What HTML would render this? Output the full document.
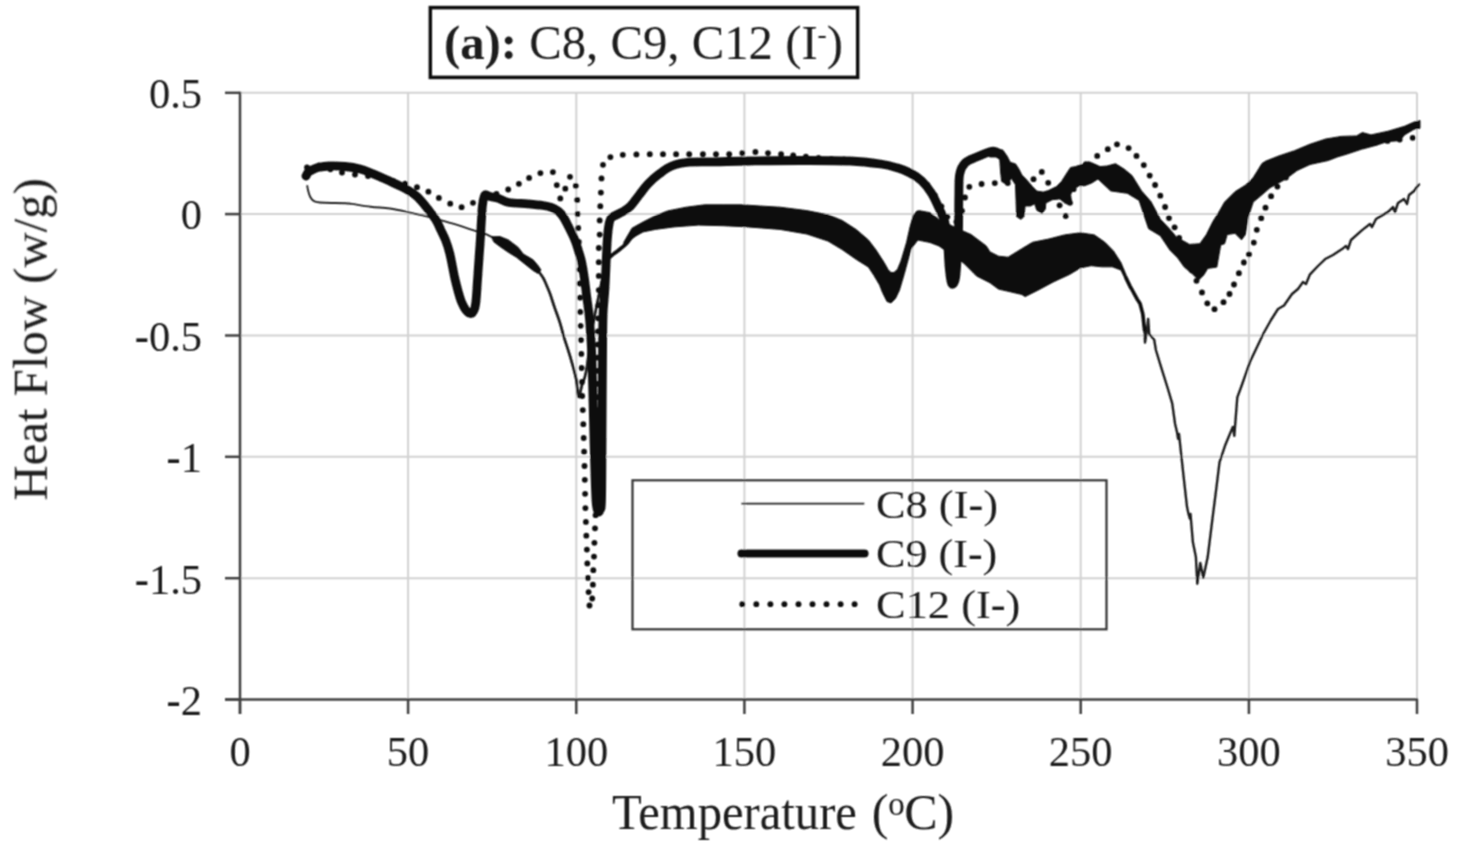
<!DOCTYPE html>
<html><head><meta charset="utf-8"><style>
html,body{margin:0;padding:0;background:#fff;}
svg{display:block;}
text{font-family:"Liberation Serif",serif;fill:#1a1a1a;}
</style></head><body>
<svg width="1462" height="846" viewBox="0 0 1462 846">
<defs><filter id="bl" x="0" y="0" width="1462" height="846" filterUnits="userSpaceOnUse"><feConvolveMatrix order="3" kernelMatrix="1 2 1 2 4 2 1 2 1" divisor="16" edgeMode="duplicate" preserveAlpha="false"/></filter></defs>
<rect width="1462" height="846" fill="#fff"/>
<g filter="url(#bl)">
<g stroke="#d2d2d2" stroke-width="2"><line x1="408.1" y1="92.8" x2="408.1" y2="699.5"/><line x1="576.3" y1="92.8" x2="576.3" y2="699.5"/><line x1="744.4" y1="92.8" x2="744.4" y2="699.5"/><line x1="912.6" y1="92.8" x2="912.6" y2="699.5"/><line x1="1080.7" y1="92.8" x2="1080.7" y2="699.5"/><line x1="1248.9" y1="92.8" x2="1248.9" y2="699.5"/><line x1="1417.0" y1="92.8" x2="1417.0" y2="699.5"/><line x1="240.0" y1="92.8" x2="1417.0" y2="92.8"/><line x1="240.0" y1="214.1" x2="1417.0" y2="214.1"/><line x1="240.0" y1="335.5" x2="1417.0" y2="335.5"/><line x1="240.0" y1="456.8" x2="1417.0" y2="456.8"/><line x1="240.0" y1="578.2" x2="1417.0" y2="578.2"/></g>
<g stroke="#404040" stroke-width="2.5" stroke-linecap="butt">
<line x1="240.0" y1="91.8" x2="240.0" y2="714"/>
<line x1="225" y1="699.5" x2="1418.0" y2="699.5"/>
<line x1="225" y1="92.8" x2="240.0" y2="92.8"/><line x1="225" y1="214.1" x2="240.0" y2="214.1"/><line x1="225" y1="335.5" x2="240.0" y2="335.5"/><line x1="225" y1="456.8" x2="240.0" y2="456.8"/><line x1="225" y1="578.2" x2="240.0" y2="578.2"/><line x1="225" y1="699.5" x2="240.0" y2="699.5"/><line x1="240.0" y1="699.5" x2="240.0" y2="714"/><line x1="408.1" y1="699.5" x2="408.1" y2="714"/><line x1="576.3" y1="699.5" x2="576.3" y2="714"/><line x1="744.4" y1="699.5" x2="744.4" y2="714"/><line x1="912.6" y1="699.5" x2="912.6" y2="714"/><line x1="1080.7" y1="699.5" x2="1080.7" y2="714"/><line x1="1248.9" y1="699.5" x2="1248.9" y2="714"/><line x1="1417.0" y1="699.5" x2="1417.0" y2="714"/></g>
<g font-size="42.5"><text x="202" y="108.1" text-anchor="end">0.5</text><text x="202" y="229.4" text-anchor="end">0</text><text x="202" y="350.8" text-anchor="end"><tspan font-weight="bold" dy="-1">-</tspan><tspan dy="1">0.5</tspan></text><text x="202" y="472.1" text-anchor="end"><tspan font-weight="bold" dy="-1">-</tspan><tspan dy="1">1</tspan></text><text x="202" y="593.5" text-anchor="end"><tspan font-weight="bold" dy="-1">-</tspan><tspan dy="1">1.5</tspan></text><text x="202" y="714.8" text-anchor="end"><tspan font-weight="bold" dy="-1">-</tspan><tspan dy="1">2</tspan></text><text x="240.0" y="765.5" text-anchor="middle">0</text><text x="408.1" y="765.5" text-anchor="middle">50</text><text x="576.3" y="765.5" text-anchor="middle">100</text><text x="744.4" y="765.5" text-anchor="middle">150</text><text x="912.6" y="765.5" text-anchor="middle">200</text><text x="1080.7" y="765.5" text-anchor="middle">250</text><text x="1248.9" y="765.5" text-anchor="middle">300</text><text x="1417.0" y="765.5" text-anchor="middle">350</text></g>
<g font-size="50"><text x="612" y="829" textLength="244.9" lengthAdjust="spacingAndGlyphs">Temperature</text>
<text x="871.8" y="829">(</text><text x="888.3" y="814.7" font-size="33">o</text><text x="904.2" y="829">C)</text></g>
<text transform="translate(46.8,500.6) rotate(-90)" font-size="49" textLength="322.5" lengthAdjust="spacingAndGlyphs">Heat Flow (w/g)</text>
<rect x="430.3" y="7.6" width="427.4" height="69.8" fill="none" stroke="#111" stroke-width="3.5"/>
<text x="444" y="58.8" font-size="48" textLength="399" lengthAdjust="spacingAndGlyphs"><tspan font-weight="bold">(a):</tspan> C8, C9, C12 (I<tspan font-size="27" dy="-16">-</tspan><tspan dy="16">)</tspan></text>
<g fill="none" stroke-linejoin="round" stroke-linecap="round">
<path d="M307.3,186.0 C307.4,186.7 307.6,188.3 308.0,190.0 C308.4,191.7 309.1,194.3 309.8,196.0 C310.6,197.7 311.5,199.0 312.5,200.0 C313.5,201.0 313.9,201.3 316.0,201.8 C318.1,202.3 320.2,202.6 325.0,202.8 C329.8,203.0 340.6,203.0 345.0,203.2 C349.4,203.4 347.4,203.3 351.7,203.9 C356.0,204.5 364.2,205.9 370.6,206.7 C377.0,207.5 383.8,207.6 390.0,208.5 C396.2,209.4 401.8,210.7 407.7,212.0 C413.6,213.3 419.6,214.6 425.5,216.1 C431.4,217.6 437.3,219.2 443.2,220.9 C449.1,222.6 455.7,224.5 461.0,226.2 C466.3,227.9 471.4,229.7 475.1,230.9 C478.8,232.1 480.4,232.1 483.3,233.2 C486.2,234.3 489.6,236.0 492.4,237.4 C495.2,238.8 497.4,240.1 500.0,241.5 C502.6,242.9 505.2,244.2 508.0,246.0 C510.8,247.8 514.3,250.2 517.0,252.4 C519.7,254.6 521.3,256.9 524.0,259.0 C526.7,261.1 530.7,263.1 533.0,265.0 C535.3,266.9 536.4,268.5 538.0,270.5 C539.6,272.5 541.5,275.3 542.6,277.0 C543.7,278.7 543.7,278.8 544.5,280.5 C545.3,282.2 546.5,285.1 547.5,287.5 C548.5,289.9 549.3,291.5 550.5,295.0 C551.7,298.5 553.3,303.8 554.9,308.4 C556.5,313.0 558.4,317.9 559.9,322.6 C561.4,327.3 562.4,332.0 563.8,336.7 C565.2,341.4 566.9,346.2 568.4,350.9 C569.9,355.6 571.3,360.4 572.6,365.1 C573.9,369.8 575.2,374.0 576.2,379.3 C577.2,384.6 577.6,396.1 578.6,397.0 C579.6,397.9 580.7,389.3 582.0,385.0 C583.3,380.7 584.5,380.5 586.2,371.3 C587.9,362.1 589.7,343.6 592.0,330.0 C594.3,316.4 597.8,300.5 600.0,290.0 C602.2,279.5 603.6,272.2 605.0,267.0 C606.4,261.8 606.0,261.3 608.3,258.5 C610.6,255.7 615.9,252.4 618.9,250.0 C621.9,247.6 623.9,246.1 626.0,244.0 C628.1,241.9 629.4,239.4 631.7,237.2 C634.0,235.0 638.6,232.0 640.0,231.0" stroke="#222" stroke-width="1.9"/>
<path d="M538.0,270.5 C538.8,271.6 541.5,275.3 542.6,277.0 C543.7,278.7 543.7,278.8 544.5,280.5 C545.3,282.2 546.5,285.1 547.5,287.5 C548.5,289.9 549.3,291.5 550.5,295.0 C551.7,298.5 553.3,303.8 554.9,308.4 C556.5,313.0 558.4,317.9 559.9,322.6 C561.4,327.3 562.4,332.0 563.8,336.7 C565.2,341.4 566.9,346.2 568.4,350.9 C569.9,355.6 571.3,360.4 572.6,365.1 C573.9,369.8 575.2,374.0 576.2,379.3 C577.2,384.6 577.6,396.1 578.6,397.0 C579.6,397.9 580.7,389.3 582.0,385.0 C583.3,380.7 584.5,380.5 586.2,371.3 C587.9,362.1 589.7,343.6 592.0,330.0 C594.3,316.4 597.8,300.5 600.0,290.0 C602.2,279.5 603.6,272.2 605.0,267.0 C606.4,261.8 606.0,261.3 608.3,258.5 C610.6,255.7 615.9,252.4 618.9,250.0 C621.9,247.6 623.9,246.1 626.0,244.0 C628.1,241.9 629.4,239.4 631.7,237.2 C634.0,235.0 638.6,232.0 640.0,231.0" stroke="#1a1a1a" stroke-width="2.7"/>
<path d="M605.0,267.0 C605.5,265.6 606.0,261.3 608.3,258.5 C610.6,255.7 615.9,252.4 618.9,250.0 C621.9,247.6 623.9,246.1 626.0,244.0 C628.1,241.9 629.4,239.4 631.7,237.2 C634.0,235.0 638.6,232.0 640.0,231.0" stroke="#111" stroke-width="3.8"/>
<polyline points="1126.0,278.0 1130.0,286.0 1137.0,298.9 1140.0,303.5 1142.8,314.0 1144.5,330.0 1145.0,342.6 1147.0,330.0 1148.2,319.0 1149.2,334.0 1154.2,339.7 1155.9,350.0 1160.4,364.8 1167.8,388.5 1172.2,403.3 1175.1,424.0 1177.0,432.0 1178.1,438.8 1179.0,434.0 1181.1,453.6 1184.0,480.2 1187.0,506.8 1188.5,514.0 1189.9,518.6 1190.5,514.0 1192.9,542.3 1195.9,557.1 1197.3,583.7 1200.3,563.0 1203.3,577.8 1207.7,557.1 1212.1,521.6 1216.6,486.1 1219.5,462.4 1225.4,444.7 1232.8,426.9 1234.3,435.8 1237.3,397.3 1241.7,385.5 1250.0,361.8 1263.7,333.0 1271.0,320.0 1278.0,309.0 1284.0,305.5 1292.0,294.0 1298.0,289.0 1303.0,282.0 1306.0,284.0 1310.0,274.3 1318.0,266.0 1325.7,258.7 1333.0,255.0 1341.3,249.6 1346.0,246.0 1348.0,249.0 1351.0,240.0 1362.1,230.1 1370.0,224.0 1372.0,227.0 1376.0,219.0 1388.1,211.9 1393.0,207.0 1395.0,212.0 1398.0,203.0 1404.0,199.0 1407.0,204.0 1409.0,195.0 1414.1,191.0 1416.5,187.5 1419.0,184.5" stroke="#1a1a1a" stroke-width="2.4"/>
<polyline points="1126.0,278.0 1130.0,286.0 1137.0,298.9 1140.0,303.5 1142.8,314.0 1144.5,330.0" stroke="#111" stroke-width="3.6"/>
<polygon points="492.0,236.8 500.0,236.6 508.3,239.9 518.2,247.4 523.2,254.0 533.1,259.8 538.0,265.6 541.0,270.0 538.0,273.5 533.1,270.5 524.8,263.9 516.5,257.3 508.3,252.3 500.0,246.5 494.0,242.0" fill="#111" stroke="#111" stroke-width="1"/>
<polygon points="624.0,242.0 632.0,228.2 643.1,222.0 655.4,215.8 667.7,210.9 686.2,207.2 704.6,204.8 723.1,204.8 741.5,204.8 760.0,206.0 780.0,207.2 806.7,210.6 828.0,214.8 842.2,220.5 856.4,229.7 868.4,240.0 876.0,250.0 884.1,262.5 888.0,269.5 891.0,272.6 894.0,272.6 897.6,269.2 901.0,261.0 906.6,242.3 910.0,227.0 913.3,215.3 917.0,211.0 920.0,210.8 930.0,212.7 938.9,219.4 957.8,228.8 971.0,234.5 986.2,245.9 990.0,251.9 998.5,256.2 1008.1,257.2 1021.9,248.7 1032.6,242.3 1048.5,239.1 1064.5,234.9 1080.4,232.8 1094.3,234.9 1104.9,242.3 1113.4,250.9 1120.9,262.6 1126.2,275.3 1130.0,283.8 1130.0,289.1 1120.9,270.0 1112.3,266.8 1101.7,266.8 1091.1,265.7 1080.4,267.9 1069.8,274.3 1053.8,281.7 1037.9,290.2 1025.1,296.6 1021.9,294.5 1008.1,291.3 998.5,289.1 990.0,282.8 976.7,276.1 963.5,262.9 938.9,245.9 930.0,242.5 917.8,240.0 911.0,249.0 904.3,273.7 899.5,290.0 895.5,298.5 891.0,302.9 887.0,301.5 882.5,292.5 879.6,284.9 874.0,275.5 868.4,267.0 856.4,259.5 842.2,249.6 828.0,241.1 806.7,234.0 780.0,229.4 747.7,226.9 723.1,225.7 698.5,225.1 673.9,226.9 655.4,229.4 643.1,231.9 629.5,239.2 624.0,244.0" fill="#111" stroke="#111" stroke-width="1"/>
<g fill="#111" stroke="none"><circle cx="307.0" cy="167.5" r="2.9"/><circle cx="319.0" cy="165.5" r="2.9"/><circle cx="330.4" cy="169.3" r="2.9"/><circle cx="342.0" cy="172.5" r="2.9"/><circle cx="355.0" cy="174.5" r="2.9"/><circle cx="368.0" cy="176.0" r="2.9"/><circle cx="381.0" cy="178.5" r="2.9"/><circle cx="393.1" cy="181.0" r="2.9"/><circle cx="405.2" cy="183.6" r="2.9"/><circle cx="417.0" cy="187.2" r="2.9"/><circle cx="428.4" cy="191.7" r="2.9"/><circle cx="438.9" cy="197.9" r="2.9"/><circle cx="450.2" cy="203.7" r="2.9"/><circle cx="461.6" cy="207.2" r="2.9"/><circle cx="473.0" cy="202.8" r="2.9"/><circle cx="484.6" cy="198.1" r="2.9"/><circle cx="496.5" cy="194.0" r="2.9"/><circle cx="508.2" cy="189.5" r="2.9"/><circle cx="518.9" cy="183.8" r="2.9"/><circle cx="529.1" cy="177.9" r="2.9"/><circle cx="540.4" cy="173.1" r="2.9"/><circle cx="552.9" cy="172.1" r="2.9"/><circle cx="556.8" cy="185.1" r="2.9"/><circle cx="560.3" cy="198.4" r="2.9"/><circle cx="565.3" cy="188.7" r="2.9"/><circle cx="570.0" cy="176.8" r="2.9"/><circle cx="575.8" cy="185.8" r="2.9"/><circle cx="577.2" cy="200.0" r="2.9"/><circle cx="577.6" cy="214.0" r="2.9"/><circle cx="578.2" cy="228.0" r="2.9"/><circle cx="578.8" cy="241.9" r="2.9"/><circle cx="579.3" cy="255.7" r="2.9"/><circle cx="579.5" cy="269.6" r="2.9"/><circle cx="579.7" cy="283.5" r="2.9"/><circle cx="580.0" cy="297.7" r="2.9"/><circle cx="580.2" cy="311.9" r="2.9"/><circle cx="580.6" cy="325.8" r="2.9"/><circle cx="581.0" cy="340.0" r="2.9"/><circle cx="581.3" cy="353.9" r="2.9"/><circle cx="581.6" cy="368.0" r="2.9"/><circle cx="582.0" cy="382.0" r="2.9"/><circle cx="582.2" cy="396.0" r="2.9"/><circle cx="582.8" cy="410.1" r="2.9"/><circle cx="583.3" cy="424.2" r="2.9"/><circle cx="583.7" cy="438.0" r="2.9"/><circle cx="584.1" cy="451.7" r="2.9"/><circle cx="584.5" cy="466.0" r="2.9"/><circle cx="584.8" cy="479.8" r="2.9"/><circle cx="585.1" cy="493.8" r="2.9"/><circle cx="585.4" cy="508.1" r="2.9"/><circle cx="585.9" cy="521.9" r="2.9"/><circle cx="586.3" cy="535.7" r="2.9"/><circle cx="586.9" cy="549.6" r="2.9"/><circle cx="587.3" cy="563.4" r="2.9"/><circle cx="588.0" cy="577.9" r="2.9"/><circle cx="588.6" cy="592.1" r="2.9"/><circle cx="589.5" cy="605.5" r="2.9"/><circle cx="592.2" cy="598.5" r="2.9"/><circle cx="592.9" cy="584.7" r="2.9"/><circle cx="593.3" cy="570.2" r="2.9"/><circle cx="594.0" cy="556.6" r="2.9"/><circle cx="594.4" cy="542.8" r="2.9"/><circle cx="595.0" cy="528.3" r="2.9"/><circle cx="595.6" cy="515.2" r="2.9"/><circle cx="596.0" cy="502.1" r="2.9"/><circle cx="596.2" cy="488.9" r="2.9"/><circle cx="596.4" cy="475.8" r="2.9"/><circle cx="596.5" cy="462.7" r="2.9"/><circle cx="596.7" cy="449.6" r="2.9"/><circle cx="596.8" cy="436.4" r="2.9"/><circle cx="597.0" cy="423.3" r="2.9"/><circle cx="597.1" cy="410.2" r="2.9"/><circle cx="597.3" cy="397.1" r="2.9"/><circle cx="597.4" cy="383.9" r="2.9"/><circle cx="597.5" cy="370.8" r="2.9"/><circle cx="597.7" cy="357.7" r="2.9"/><circle cx="597.8" cy="344.6" r="2.9"/><circle cx="598.0" cy="331.4" r="2.9"/><circle cx="598.2" cy="318.3" r="2.9"/><circle cx="598.4" cy="305.2" r="2.9"/><circle cx="598.8" cy="290.1" r="2.9"/><circle cx="598.8" cy="275.9" r="2.9"/><circle cx="598.8" cy="262.2" r="2.9"/><circle cx="598.8" cy="248.0" r="2.9"/><circle cx="599.7" cy="234.6" r="2.9"/><circle cx="599.7" cy="220.4" r="2.9"/><circle cx="600.3" cy="206.2" r="2.9"/><circle cx="600.9" cy="192.6" r="2.9"/><circle cx="601.5" cy="178.4" r="2.9"/><circle cx="603.0" cy="164.8" r="2.9"/><circle cx="610.4" cy="157.1" r="2.9"/><circle cx="622.8" cy="154.8" r="2.9"/><circle cx="636.4" cy="154.4" r="2.9"/><circle cx="649.8" cy="154.2" r="2.9"/><circle cx="663.0" cy="154.2" r="2.9"/><circle cx="676.1" cy="154.2" r="2.9"/><circle cx="689.2" cy="154.2" r="2.9"/><circle cx="702.9" cy="154.2" r="2.9"/><circle cx="716.0" cy="154.2" r="2.9"/><circle cx="729.2" cy="154.2" r="2.9"/><circle cx="742.3" cy="153.1" r="2.9"/><circle cx="755.4" cy="152.0" r="2.9"/><circle cx="768.0" cy="153.1" r="2.9"/><circle cx="781.1" cy="154.2" r="2.9"/><circle cx="793.2" cy="155.3" r="2.9"/><circle cx="805.9" cy="156.6" r="2.9"/><circle cx="818.6" cy="157.9" r="2.9"/><circle cx="831.3" cy="158.8" r="2.9"/><circle cx="844.0" cy="159.5" r="2.9"/><circle cx="856.7" cy="160.6" r="2.9"/><circle cx="869.4" cy="162.0" r="2.9"/><circle cx="882.0" cy="163.8" r="2.9"/><circle cx="894.4" cy="166.7" r="2.9"/><circle cx="906.4" cy="170.9" r="2.9"/><circle cx="917.7" cy="176.8" r="2.9"/><circle cx="927.4" cy="185.0" r="2.9"/><circle cx="934.9" cy="195.3" r="2.9"/><circle cx="941.4" cy="206.3" r="2.9"/><circle cx="947.3" cy="216.8" r="2.9"/><circle cx="956.4" cy="221.8" r="2.9"/><circle cx="962.0" cy="211.0" r="2.9"/><circle cx="965.0" cy="197.5" r="2.9"/><circle cx="969.3" cy="186.8" r="2.9"/><circle cx="981.6" cy="184.0" r="2.9"/><circle cx="994.8" cy="183.1" r="2.9"/><circle cx="1007.8" cy="183.0" r="2.9"/><circle cx="1020.8" cy="181.9" r="2.9"/><circle cx="1033.5" cy="179.2" r="2.9"/><circle cx="1041.8" cy="171.9" r="2.9"/><circle cx="1048.2" cy="182.8" r="2.9"/><circle cx="1054.0" cy="194.0" r="2.9"/><circle cx="1059.6" cy="205.3" r="2.9"/><circle cx="1065.7" cy="216.0" r="2.9"/><circle cx="1070.0" cy="202.8" r="2.9"/><circle cx="1073.6" cy="189.2" r="2.9"/><circle cx="1078.4" cy="176.0" r="2.9"/><circle cx="1085.9" cy="164.2" r="2.9"/><circle cx="1097.2" cy="155.9" r="2.9"/><circle cx="1107.8" cy="149.2" r="2.9"/><circle cx="1117.0" cy="144.3" r="2.9"/><circle cx="1128.6" cy="148.1" r="2.9"/><circle cx="1136.5" cy="155.9" r="2.9"/><circle cx="1143.8" cy="165.1" r="2.9"/><circle cx="1149.7" cy="175.6" r="2.9"/><circle cx="1155.1" cy="185.0" r="2.9"/><circle cx="1160.3" cy="195.7" r="2.9"/><circle cx="1165.1" cy="207.0" r="2.9"/><circle cx="1169.0" cy="218.1" r="2.9"/><circle cx="1174.6" cy="227.3" r="2.9"/><circle cx="1179.2" cy="237.9" r="2.9"/><circle cx="1183.3" cy="248.7" r="2.9"/><circle cx="1187.3" cy="259.6" r="2.9"/><circle cx="1191.6" cy="270.3" r="2.9"/><circle cx="1196.5" cy="280.8" r="2.9"/><circle cx="1202.0" cy="292.4" r="2.9"/><circle cx="1207.3" cy="303.3" r="2.9"/><circle cx="1214.5" cy="309.2" r="2.9"/><circle cx="1223.5" cy="302.2" r="2.9"/><circle cx="1229.5" cy="294.0" r="2.9"/><circle cx="1234.0" cy="284.5" r="2.9"/><circle cx="1238.9" cy="273.2" r="2.9"/><circle cx="1243.9" cy="262.5" r="2.9"/><circle cx="1249.0" cy="254.3" r="2.9"/><circle cx="1253.8" cy="242.6" r="2.9"/><circle cx="1256.8" cy="229.8" r="2.9"/><circle cx="1261.2" cy="218.2" r="2.9"/><circle cx="1265.5" cy="207.7" r="2.9"/><circle cx="1271.1" cy="196.2" r="2.9"/><circle cx="1277.4" cy="186.6" r="2.9"/><circle cx="1285.9" cy="177.5" r="2.9"/><circle cx="1293.9" cy="168.1" r="2.9"/><circle cx="1303.9" cy="161.1" r="2.9"/><circle cx="1315.4" cy="156.8" r="2.9"/><circle cx="1327.3" cy="153.7" r="2.9"/><circle cx="1339.4" cy="151.1" r="2.9"/><circle cx="1351.3" cy="148.1" r="2.9"/><circle cx="1363.3" cy="145.3" r="2.9"/><circle cx="1375.3" cy="142.8" r="2.9"/><circle cx="1387.5" cy="140.9" r="2.9"/><circle cx="1399.7" cy="139.5" r="2.9"/><circle cx="1412.7" cy="137.8" r="2.9"/></g>
<path d="M306.0,176.0 C306.4,175.3 307.3,173.1 308.5,172.0 C309.7,170.9 311.4,170.2 313.0,169.5 C314.6,168.8 315.2,168.1 318.0,167.5 C320.8,166.9 325.5,166.2 330.0,166.0 C334.5,165.8 340.0,166.0 345.0,166.5 C350.0,167.0 355.7,167.9 360.0,169.0 C364.3,170.1 366.1,171.0 371.0,173.0 C375.9,175.0 385.0,179.0 389.5,181.0 C394.0,183.0 395.0,183.5 398.0,185.0 C401.0,186.5 404.5,188.1 407.7,190.0 C410.9,191.9 414.1,193.9 417.0,196.5 C419.9,199.1 422.8,202.8 425.0,205.5 C427.2,208.2 428.6,209.9 430.5,212.5 C432.4,215.1 434.8,218.1 436.5,221.0 C438.2,223.9 439.3,226.8 440.8,230.0 C442.3,233.2 444.0,236.1 445.5,240.0 C447.0,243.9 448.3,247.4 449.8,253.6 C451.3,259.8 453.2,270.9 454.6,277.3 C456.0,283.7 457.2,288.0 458.3,292.0 C459.4,296.0 460.1,298.5 461.3,301.5 C462.6,304.5 464.2,308.0 465.8,310.0 C467.4,312.0 469.8,313.7 471.2,313.5 C472.6,313.3 473.7,311.2 474.5,309.0 C475.3,306.8 475.6,304.8 476.1,300.0 C476.6,295.2 477.1,285.8 477.5,280.0 C477.9,274.2 478.1,271.9 478.5,265.5 C478.9,259.1 479.7,249.0 480.2,241.8 C480.7,234.7 480.9,228.7 481.3,222.6 C481.7,216.5 481.9,209.6 482.5,205.0 C483.1,200.4 483.6,196.4 484.9,195.0 C486.1,193.6 487.8,195.9 490.0,196.5 C492.2,197.1 495.2,197.4 498.4,198.4 C501.5,199.4 504.0,201.6 508.9,202.5 C513.8,203.4 522.1,203.4 527.8,203.9 C533.5,204.4 539.1,204.9 543.0,205.5 C546.9,206.1 548.7,206.4 551.3,207.4 C553.9,208.4 556.4,209.7 558.4,211.3 C560.4,212.9 561.6,214.4 563.2,216.8 C564.8,219.2 566.0,221.7 567.9,225.5 C569.8,229.3 573.0,235.5 574.7,239.6 C576.4,243.7 577.1,246.4 578.2,250.0 C579.3,253.6 580.4,256.4 581.4,261.0 C582.4,265.6 583.4,271.4 584.3,277.7 C585.2,284.0 586.1,291.8 587.0,298.9 C587.9,306.0 588.8,310.0 589.6,320.2 C590.4,330.4 591.3,340.0 592.0,360.0 C592.7,380.0 593.3,416.7 594.0,440.0 C594.7,463.3 595.3,488.2 596.0,500.0 C596.7,511.8 597.3,509.3 598.0,511.0 C598.7,512.7 599.4,511.8 600.0,510.0 C600.6,508.2 601.2,511.7 601.5,500.0 C601.8,488.3 601.8,463.3 602.0,440.0 C602.2,416.7 602.3,380.7 602.5,360.0 C602.7,339.3 602.6,327.7 603.0,315.6 C603.4,303.5 604.3,299.9 605.0,287.3 C605.7,274.7 606.5,250.9 607.3,240.0 C608.0,229.1 608.6,225.9 609.5,222.0 C610.4,218.1 610.6,218.5 612.7,216.8 C614.8,215.2 619.2,213.9 622.2,212.1 C625.2,210.3 627.8,208.9 630.5,206.2 C633.2,203.4 635.8,199.3 638.7,195.6 C641.7,191.8 644.9,187.2 648.2,183.7 C651.6,180.1 654.9,177.2 658.8,174.3 C662.7,171.4 666.7,168.0 671.8,166.0 C676.9,164.0 682.4,162.9 689.6,162.2 C696.8,161.5 704.9,162.0 715.0,161.8 C725.1,161.6 735.8,161.2 750.0,161.0 C764.2,160.8 783.3,160.5 800.0,160.5 C816.7,160.5 836.6,160.4 850.0,161.0 C863.4,161.6 872.8,162.9 880.6,164.0 C888.4,165.1 892.1,166.3 897.0,167.8 C901.9,169.3 906.1,170.8 910.2,173.0 C914.3,175.2 918.2,177.6 921.7,180.9 C925.2,184.2 928.4,188.4 931.3,192.9 C934.2,197.4 936.7,203.3 938.9,208.0 C941.1,212.7 943.2,216.0 944.6,221.3 C946.0,226.6 946.8,232.7 947.5,240.0 C948.2,247.3 948.4,258.2 949.0,265.0 C949.6,271.8 950.3,277.8 951.0,281.0 C951.7,284.2 952.2,284.5 953.0,284.0 C953.8,283.5 954.8,282.0 955.5,278.0 C956.2,274.0 956.5,268.0 957.0,260.0 C957.5,252.0 958.2,240.6 958.5,230.0 C958.8,219.4 958.6,206.0 958.8,196.7 C959.0,187.4 958.6,179.7 959.7,174.0 C960.8,168.3 962.6,165.5 965.4,162.7 C968.2,159.9 972.3,158.9 976.7,157.0 C981.1,155.1 988.3,152.1 991.8,151.3 C995.3,150.6 996.1,151.9 997.5,152.5 C998.9,153.1 999.6,154.6 1000.0,155.0" stroke="#111" stroke-width="8.8"/>
<polygon points="990.0,150.6 996.4,149.0 1002.8,150.1 1007.0,156.0 1010.2,162.3 1015.5,163.9 1018.7,168.7 1021.9,175.1 1027.2,180.4 1032.6,186.8 1036.8,191.1 1043.2,192.1 1048.3,190.6 1056.6,186.5 1061.5,181.5 1067.3,172.4 1070.6,167.5 1075.6,166.6 1084.7,163.3 1088.8,161.7 1094.6,164.1 1100.0,166.6 1107.0,166.0 1115.5,163.7 1124.0,169.0 1132.0,175.6 1141.5,190.9 1150.9,201.6 1160.4,219.3 1170.0,229.4 1176.5,237.2 1189.5,244.4 1199.9,243.7 1206.4,234.6 1212.9,221.6 1219.4,211.2 1224.6,202.1 1235.0,191.7 1245.4,185.2 1253.0,178.0 1258.0,170.0 1262.0,163.5 1265.8,161.1 1278.9,155.9 1294.5,150.7 1310.0,144.2 1325.7,139.0 1341.3,136.4 1356.6,135.9 1362.4,132.5 1371.0,134.9 1388.1,131.2 1404.5,126.3 1414.1,122.1 1420.0,120.5 1420.0,128.2 1414.1,129.2 1404.5,134.9 1399.7,140.7 1387.3,141.6 1375.8,145.4 1361.4,149.3 1347.0,154.1 1337.5,156.9 1328.3,160.5 1310.0,164.5 1297.1,170.5 1285.7,179.0 1270.0,187.8 1261.0,195.6 1253.2,202.1 1248.0,217.7 1245.4,234.6 1241.5,239.8 1235.0,233.3 1227.2,234.6 1224.6,243.7 1220.7,245.0 1216.8,267.1 1207.7,268.4 1203.8,274.9 1198.6,280.1 1192.1,273.6 1184.3,267.1 1177.8,258.0 1170.0,250.2 1160.4,235.8 1148.6,228.7 1139.1,200.4 1127.3,193.3 1110.7,190.9 1098.0,179.0 1091.3,183.2 1084.7,185.7 1079.7,185.7 1073.1,189.0 1070.6,194.8 1071.5,201.4 1069.0,204.7 1064.8,203.0 1059.9,198.9 1052.4,199.7 1045.8,203.0 1045.3,209.1 1042.1,213.4 1036.8,210.2 1034.7,203.8 1030.4,206.0 1025.1,206.0 1024.0,216.6 1020.9,219.3 1016.6,216.6 1015.5,184.7 1011.3,178.3 1007.0,184.7 1001.7,181.5 1000.6,171.9 999.6,157.0 990.0,157.0" fill="#111" stroke="#111" stroke-width="1"/>
</g>
<rect x="632.5" y="480.3" width="474" height="149" fill="none" stroke="#333" stroke-width="2.2"/>
<g stroke-linecap="round" fill="none">
<line x1="741.5" y1="503.6" x2="864.3" y2="503.6" stroke="#222" stroke-width="1.8" stroke-linecap="butt"/>
<line x1="741.5" y1="553.5" x2="864.5" y2="553.5" stroke="#111" stroke-width="8"/>
<g fill="#111" stroke="none"><circle cx="742.3" cy="604.2" r="2.9"/><circle cx="756.3" cy="604.2" r="2.9"/><circle cx="770.4" cy="604.2" r="2.9"/><circle cx="784.4" cy="604.2" r="2.9"/><circle cx="798.5" cy="604.2" r="2.9"/><circle cx="812.5" cy="604.2" r="2.9"/><circle cx="826.5" cy="604.2" r="2.9"/><circle cx="840.6" cy="604.2" r="2.9"/><circle cx="854.6" cy="604.2" r="2.9"/></g>
</g>
<g font-size="40">
<text x="876" y="517.5" textLength="122" lengthAdjust="spacingAndGlyphs">C8 (I<tspan font-weight="bold">-</tspan>)</text>
<text x="876" y="567" textLength="121.3" lengthAdjust="spacingAndGlyphs">C9 (I<tspan font-weight="bold">-</tspan>)</text>
<text x="876" y="618" textLength="144.4" lengthAdjust="spacingAndGlyphs">C12 (I<tspan font-weight="bold">-</tspan>)</text>
</g>
</g>
</svg>
</body></html>
